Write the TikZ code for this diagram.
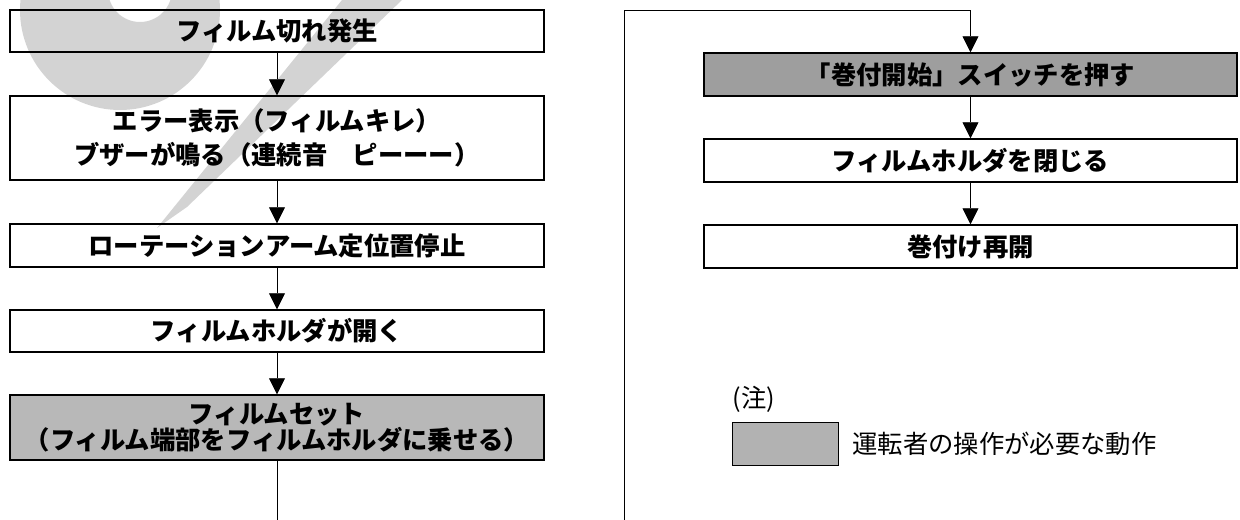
\documentclass[tikz,border=0pt]{standalone}
\usepackage{fontspec}
\newfontfamily\jpfont{Noto Sans CJK JP}
\usetikzlibrary{arrows.meta}

\tikzset{every picture/.style={line width=0.75pt}}
\tikzset{
  stepbox/.style={draw, line width=1.1pt, minimum width=400.5pt, inner sep=0pt, align=center,
    font=\jpfont\bfseries\fontsize{19}{25}\selectfont},
  opbox/.style={stepbox, fill=black!38},
  flow/.style={line width=0.6pt, -{Triangle[width=12pt,length=12pt]}},
  link/.style={line width=0.6pt},
  wmark/.style={fill={rgb,255:red,211;green,211;blue,211}},
  notetext/.style={anchor=west, inner sep=0pt, font=\jpfont\fontsize{19}{22}\selectfont},
}

\begin{document}
\begin{tikzpicture}[x=0.75pt,y=0.75pt,yscale=-1,xscale=1]
\useasboundingbox (0,0) rectangle (1240,520);

%Watermark
\begin{scope}
\clip (0,0) rectangle (1240,520);
\fill[wmark, even odd rule] (120,10) circle (100) (140,-10) circle (32);
\fill[wmark] (342,0) -- (402,0) -- (187,207) -- (157,228) -- cycle;
\end{scope}

%Left column
\node[stepbox, minimum height=31.5pt] (film) at (277,31) {フィルム切れ発生};
\node[stepbox, minimum height=63pt] (error) at (277,138) {エラー表示（フィルムキレ）\\ブザーが鳴る（連続音　ピーーー）};
\node[stepbox, minimum height=32.25pt] (stop) at (277,245.5) {ローテーションアーム定位置停止};
\node[stepbox, minimum height=31.5pt] (open) at (277,331) {フィルムホルダが開く};
\node[opbox, fill=black!28, minimum height=48.75pt, font=\jpfont\bfseries\fontsize{19}{20}\selectfont] (set) at (277,427.5) {フィルムセット\\（フィルム端部をフィルムホルダに乗せる）};
\coordinate (leftend) at (277,520);

\draw[flow] (film) -- (error);
\draw[flow] (error) -- (stop);
\draw[flow] (stop) -- (open);
\draw[flow] (open) -- (set);
\draw[link] (set) -- (leftend);

%Right column
\node[opbox, minimum width=399.75pt, minimum height=32.25pt] (press) at (970.5,74.5) {「巻付開始」スイッチを押す};
\node[stepbox, minimum width=399.75pt, minimum height=32.25pt] (close) at (970.5,160.5) {フィルムホルダを閉じる};
\node[stepbox, minimum width=399.75pt, minimum height=32.25pt] (resume) at (970.5,246.5) {巻付け再開};
\coordinate (backbottom) at (624,520);
\coordinate (backtop) at (624,10);

\draw[flow] (backbottom) -- (backtop) -| (press.north);
\draw[flow] (press) -- (close);
\draw[flow] (close) -- (resume);

%Legend
\node[notetext] (note) at (732,399) {(注)};
\node[opbox, fill=black!30, anchor=north west, minimum width=79.5pt, minimum height=32.25pt] (key) at (732,422) {};
\node[notetext] (keytext) at (852,444) {運転者の操作が必要な動作};

\end{tikzpicture}
\end{document}
